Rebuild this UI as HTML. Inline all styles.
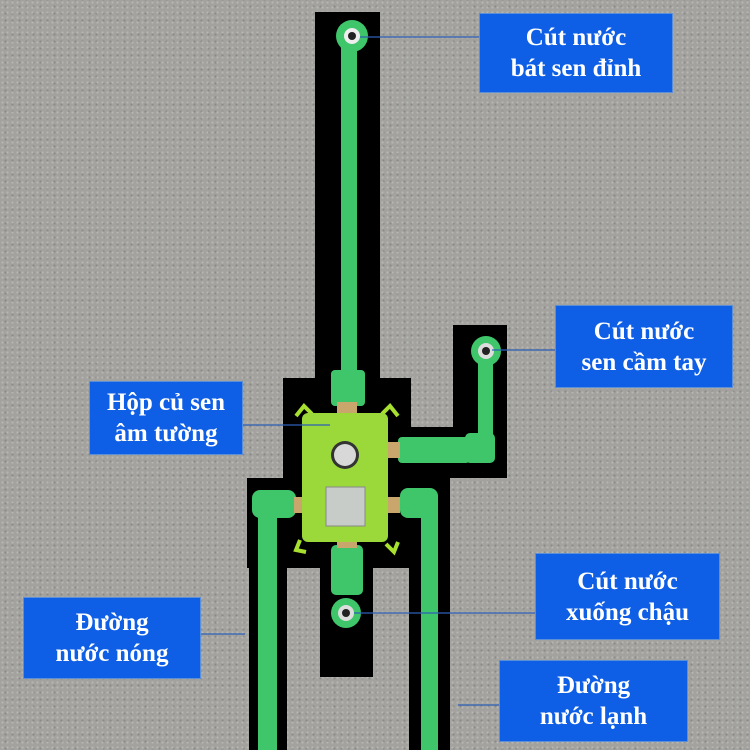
<!DOCTYPE html>
<html><head><meta charset="utf-8"><style>
body{margin:0;}
#c{position:relative;width:750px;height:750px;overflow:hidden;background:#a3a29e;
background-image:radial-gradient(#b8b7b3 1px,transparent 1.2px),radial-gradient(#8a8985 1px,transparent 1.2px);
background-size:5px 5px,7px 7px;background-position:0 0,2px 3px;}
.k{position:absolute;background:#000;}
.b{position:absolute;background:#0f5fe6;border:1px solid #5b8fd8;color:#fff;font-family:"Liberation Serif",serif;font-weight:bold;font-size:25px;line-height:31px;text-align:center;display:flex;align-items:center;justify-content:center;box-sizing:border-box;}
svg{position:absolute;left:0;top:0;}
</style></head><body><div id="c">
<div class="k" style="left:315px;top:12px;width:65px;height:370px"></div>
<div class="k" style="left:283px;top:378px;width:128px;height:190px"></div>
<div class="k" style="left:453px;top:325px;width:54px;height:153px"></div>
<div class="k" style="left:405px;top:427px;width:102px;height:51px"></div>
<div class="k" style="left:247px;top:478px;width:203px;height:90px"></div>
<div class="k" style="left:249px;top:560px;width:38px;height:190px"></div>
<div class="k" style="left:409px;top:560px;width:41px;height:190px"></div>
<div class="k" style="left:320px;top:560px;width:53px;height:117px"></div>
<svg width="750" height="750">
<g fill="#3fc56a">
<rect x="341" y="40" width="16" height="340"/>
<rect x="331" y="370" width="34" height="36" rx="4"/>
<circle cx="352" cy="36" r="16"/>
<rect x="478" y="355" width="15" height="90"/>
<circle cx="486" cy="351" r="15"/>
<rect x="465" y="433" width="30" height="30" rx="5"/>
<rect x="398" y="437" width="72" height="26" rx="4"/>
<rect x="258" y="500" width="19" height="250"/>
<rect x="252" y="490" width="44" height="28" rx="8"/>
<rect x="421" y="500" width="17" height="250"/>
<rect x="400" y="488" width="38" height="30" rx="8"/>
<rect x="331" y="545" width="32" height="50" rx="5"/>
<circle cx="346" cy="613" r="15"/>
</g>
<circle cx="352" cy="36" r="8" fill="#eee"/><circle cx="352" cy="36" r="4" fill="#222"/>
<circle cx="486" cy="351" r="8" fill="#ddd"/><circle cx="486" cy="351" r="4" fill="#222"/>
<circle cx="346" cy="613" r="8" fill="#ddd"/><circle cx="346" cy="613" r="4" fill="#222"/>
<g fill="#c9a66b"><rect x="337" y="402" width="20" height="12"/><rect x="386" y="442" width="14" height="16"/><rect x="294" y="497" width="10" height="16"/><rect x="386" y="497" width="14" height="16"/><rect x="337" y="540" width="20" height="8"/></g>
<g stroke="#a8e030" stroke-width="4" fill="none"><path d="M296 416 l8 -10 8 8"/><path d="M382 414 l8 -8 8 10"/><path d="M300 540 l-4 10 10 2"/><path d="M386 544 l8 8 4 -10"/></g>
<rect x="302" y="413" width="86" height="129" rx="6" fill="#9bd83a"/>
<circle cx="345" cy="455" r="14" fill="#333"/><circle cx="345" cy="455" r="11" fill="#d8d8d8"/>
<rect x="326" y="487" width="39" height="39" fill="#c8ccc8" stroke="#888"/>
<g stroke="#2c5fb8" stroke-width="1.3"><line x1="360" y1="37" x2="479" y2="37"/><line x1="492" y1="350" x2="556" y2="350"/><line x1="243" y1="425" x2="330" y2="425"/><line x1="354" y1="613" x2="535" y2="613"/><line x1="201" y1="634" x2="245" y2="634"/><line x1="458" y1="705" x2="499" y2="705"/></g>
</svg>
<div class="b" style="left:479px;top:13px;width:194px;height:80px">Cút nước<br>bát sen đỉnh</div>
<div class="b" style="left:555px;top:305px;width:178px;height:83px">Cút nước<br>sen cầm tay</div>
<div class="b" style="left:89px;top:381px;width:154px;height:74px">Hộp củ sen<br>âm tường</div>
<div class="b" style="left:535px;top:553px;width:185px;height:87px">Cút nước<br>xuống chậu</div>
<div class="b" style="left:23px;top:597px;width:178px;height:82px">Đường<br>nước nóng</div>
<div class="b" style="left:499px;top:660px;width:189px;height:82px">Đường<br>nước lạnh</div>
</div></body></html>
